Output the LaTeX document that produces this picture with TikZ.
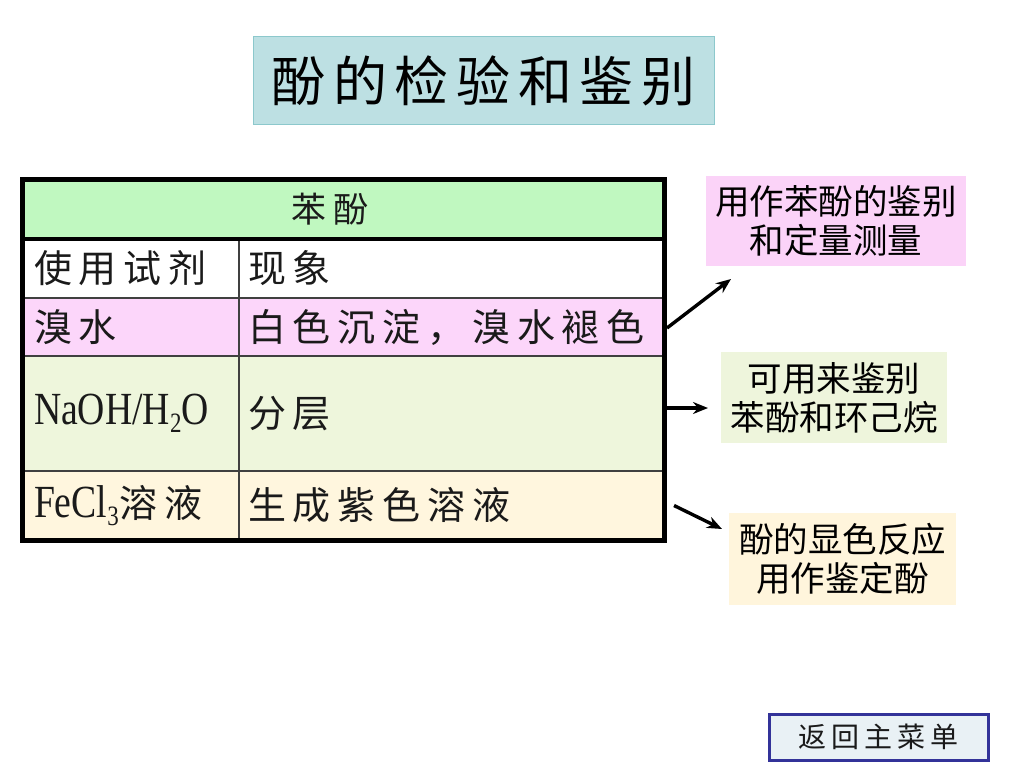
\documentclass[tikz,border=0pt]{standalone}
\usepackage{fontspec}
\usetikzlibrary{arrows.meta}
\newfontfamily\cjk{Noto Sans CJK SC}
\newfontfamily\cjkls[LetterSpace=18]{Noto Sans CJK SC}
\newfontfamily\cjktt[LetterSpace=14]{Noto Sans CJK SC}
\newfontfamily\latf{Liberation Serif}
\definecolor{hdrgreen}{HTML}{C0F8C0}
\definecolor{rowpink}{HTML}{FCD6FA}
\definecolor{rowgreen}{HTML}{EEF6DC}
\definecolor{rowyellow}{HTML}{FFF6DE}
\definecolor{boxpink}{HTML}{FBD3F8}
\definecolor{boxgreen}{HTML}{EEF5DC}
\definecolor{boxyellow}{HTML}{FFF5DC}
\definecolor{titlefill}{HTML}{BDE0E3}
\definecolor{titleline}{HTML}{8CC8CC}
\definecolor{btnfill}{HTML}{E9F1F5}
\definecolor{btnline}{HTML}{333399}
\definecolor{ink}{HTML}{1A1A1A}
\newcommand{\tabfont}{\cjkls\fontsize{38}{42}\selectfont}
\newcommand{\sidefont}{\cjk\fontsize{34.5}{39}\selectfont}
\newcommand{\latbig}[1]{\scalebox{0.82}[1]{\latf\fontsize{46}{46}\selectfont #1}}
\newcommand{\latsub}[1]{\raisebox{-0.22em}{\scalebox{0.82}[1]{\latf\fontsize{28}{28}\selectfont #1}}}
\tikzset{
  cell/.style={rectangle, anchor=north west, inner sep=0pt, outer sep=0pt, text=ink, font=\tabfont},
  colA/.style={cell, inner xsep=12pt, text width=193pt, minimum width=217pt, align=left},
  colB/.style={cell, inner xsep=9pt, text width=407pt, minimum width=425pt, align=left},
  sidebox/.style={rectangle, inner sep=0pt, align=center, font=\sidefont, text=black},
  arr/.style={-{Stealth[length=15pt,width=12pt]}, line width=3.4pt, black},
  thin grid/.style={line width=1.2pt, black!75}
}
\begin{document}
\begin{tikzpicture}[x=1pt,y=-1pt]
\path[use as bounding box, fill=white] (0,0) rectangle (1024,768);

% title
\node[rectangle, draw=titleline, line width=1pt, fill=titlefill, minimum width=461pt, minimum height=87pt, inner sep=0pt,
      font={\cjktt\fontsize{54}{60}\selectfont}] (title) at (483.5,80.5) {酚的检验和鉴别};

% table
\node[cell, fill=hdrgreen, minimum width=642pt, minimum height=60pt, font={\cjkls\fontsize{35}{40}\selectfont}] (hdr) at (22,179) {苯酚\hspace*{26pt}};
\node[colA, fill=white, minimum height=59pt] (a1) at (22,239) {使用试剂};
\node[colB, fill=white, minimum height=59pt] (b1) at (239,239) {现象};
\node[colA, fill=rowpink, minimum height=58pt] (a2) at (22,298) {溴水};
\node[colB, fill=rowpink, minimum height=58pt] (b2) at (239,298) {白色沉淀，溴水褪色};
\node[colA, fill=rowgreen, minimum height=115pt] (a3) at (22,356) {\latbig{NaOH/H}\latsub{2}\latbig{O}};
\node[colB, fill=rowgreen, minimum height=115pt] (b3) at (239,356) {分层};
\node[colA, fill=rowyellow, minimum height=69pt] (a4) at (22,471) {\latbig{FeCl}\latsub{3}\hspace{1pt}溶液};
\node[colB, fill=rowyellow, minimum height=69pt] (b4) at (239,471) {生成紫色溶液};

\draw[thin grid] (a1.north east) -- (a4.south east);
\draw[thin grid] (a2.north west) -- (b2.north east);
\draw[thin grid] (a3.north west) -- (b3.north east);
\draw[thin grid] (a4.north west) -- (b4.north east);
\draw[line width=4.5pt] (hdr.south west) -- (hdr.south east);
\draw[line width=5pt] (hdr.north west) rectangle (b4.south east);

% side boxes
\node[sidebox, fill=boxpink, minimum width=260pt, minimum height=90pt] (s1) at (836,221) {用作苯酚的鉴别\\和定量测量};
\node[sidebox, fill=boxgreen, minimum width=226pt, minimum height=91pt] (s2) at (834,397.5) {可用来鉴别\\苯酚和环己烷};
\node[sidebox, fill=boxyellow, minimum width=227pt, minimum height=92pt] (s3) at (842.5,559) {酚的显色反应\\用作鉴定酚};

% arrows
\coordinate (e1) at (731,279);
\coordinate (e2) at (708,408);
\coordinate (e3) at (722,529);
\draw[arr] ([xshift=3pt,yshift=-1pt]b2.east) -- (e1);
\draw[arr] ([xshift=3pt]b3.east |- e2) -- (e2);
\draw[arr] ([xshift=10pt]b4.east) -- (e3);

% back button
\node[rectangle, draw=btnline, line width=3pt, fill=btnfill, minimum width=219pt, minimum height=46pt, inner sep=0pt,
      font={\cjkls\fontsize{28}{30}\selectfont}, text=ink] (back) at (878.5,737) {返回主菜单};
\end{tikzpicture}
\end{document}
